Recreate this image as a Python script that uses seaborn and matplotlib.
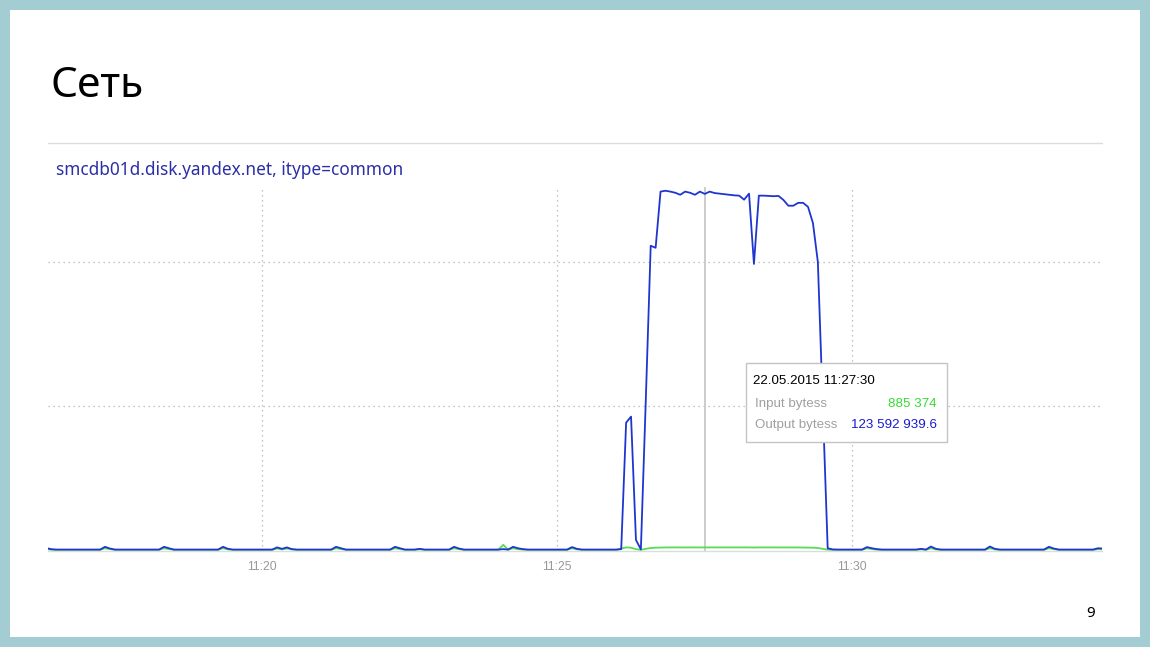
import numpy as np
import pandas as pd
import matplotlib
matplotlib.use("Agg")
import matplotlib.pyplot as plt
import matplotlib.dates as mdates
from matplotlib.patches import Rectangle
from matplotlib.lines import Line2D
import seaborn as sns

# ---------------- data ----------------
title = "Сеть"
subtitle = "smcdb01d.disk.yandex.net, itype=common"
start_time = "2015-05-22 11:16:20"
step = "5s"

# Output bytes (millions), one sample every 5 s
output_mb = [
    0.7, 0.3, 0.15, 0.15, 0.14, 0.15, 0.16, 0.15, 0.15, 0.14, 0.15, 0.15,
    1.1, 0.5, 0.15, 0.15, 0.15, 0.14, 0.15, 0.15, 0.16, 0.15, 0.15, 0.15,
    1.1, 0.6, 0.15, 0.15, 0.15, 0.15, 0.14, 0.15, 0.15, 0.15, 0.16, 0.15,
    1.1, 0.4, 0.15, 0.15, 0.15, 0.14, 0.15, 0.15, 0.15, 0.15, 0.15, 0.9,
    0.4, 0.9, 0.3, 0.15, 0.15, 0.15, 0.14, 0.15, 0.15, 0.15, 0.15, 1.1,
    0.6, 0.15, 0.15, 0.15, 0.15, 0.14, 0.15, 0.15, 0.16, 0.15, 0.15, 1.1,
    0.6, 0.15, 0.15, 0.15, 0.4, 0.15, 0.15, 0.15, 0.14, 0.15, 0.15, 1.1,
    0.5, 0.15, 0.15, 0.15, 0.14, 0.15, 0.15, 0.15, 0.15, 0.3, 0.15, 1.1,
    0.6, 0.3, 0.15, 0.15, 0.15, 0.14, 0.15, 0.15, 0.15, 0.15, 0.15, 1.0,
    0.4, 0.15, 0.15, 0.15, 0.15, 0.14, 0.15, 0.15, 0.15, 0.3, 44.2, 46.3,
    3.5, 0.2, 52.0, 105.6, 104.9, 124.4, 124.7, 124.4, 124.0, 123.3, 124.4, 124.0,
    123.3, 124.4, 123.6, 124.4, 123.9, 123.7, 123.5, 123.3, 123.1, 123.0, 121.6, 123.7,
    99.3, 123.0, 123.0, 122.9, 122.8, 122.9, 121.5, 119.5, 119.5, 120.5, 120.5, 119.1,
    113.5, 100.0, 50.0, 0.6, 0.2, 0.15, 0.15, 0.15, 0.14, 0.15, 0.15, 1.0,
    0.6, 0.3, 0.15, 0.15, 0.15, 0.14, 0.15, 0.15, 0.15, 0.15, 0.4, 0.15,
    1.2, 0.4, 0.15, 0.15, 0.15, 0.14, 0.15, 0.15, 0.15, 0.16, 0.15, 0.15,
    1.2, 0.4, 0.15, 0.15, 0.15, 0.14, 0.15, 0.15, 0.15, 0.16, 0.15, 0.15,
    1.1, 0.5, 0.15, 0.15, 0.15, 0.14, 0.15, 0.15, 0.15, 0.15, 0.6, 0.5,
]

# Input bytes (millions)
input_mb = [
    0.3, 0.1, 0.05, 0.05, 0.05, 0.05, 0.05, 0.05, 0.05, 0.05, 0.05, 0.05,
    0.6, 0.3, 0.05, 0.05, 0.05, 0.05, 0.05, 0.05, 0.05, 0.05, 0.05, 0.05,
    0.6, 0.3, 0.05, 0.05, 0.05, 0.05, 0.05, 0.05, 0.05, 0.05, 0.05, 0.05,
    0.6, 0.2, 0.05, 0.05, 0.05, 0.05, 0.05, 0.05, 0.05, 0.05, 0.05, 0.5,
    0.2, 0.5, 0.2, 0.05, 0.05, 0.05, 0.05, 0.05, 0.05, 0.05, 0.05, 0.6,
    0.3, 0.05, 0.05, 0.05, 0.05, 0.05, 0.05, 0.05, 0.05, 0.05, 0.05, 0.6,
    0.3, 0.05, 0.05, 0.05, 0.2, 0.05, 0.05, 0.05, 0.05, 0.05, 0.05, 0.6,
    0.3, 0.05, 0.05, 0.05, 0.05, 0.05, 0.05, 0.05, 0.05, 1.8, 0.1, 0.6,
    0.3, 0.1, 0.05, 0.05, 0.05, 0.05, 0.05, 0.05, 0.05, 0.05, 0.05, 0.6,
    0.2, 0.05, 0.05, 0.05, 0.05, 0.05, 0.05, 0.05, 0.05, 0.5, 0.9, 0.8,
    0.3, 0.05, 0.4, 0.7, 0.8, 0.85, 0.88, 0.9, 0.9, 0.88, 0.9, 0.9,
    0.89, 0.9, 0.885, 0.9, 0.9, 0.89, 0.9, 0.9, 0.9, 0.89, 0.88, 0.9,
    0.85, 0.9, 0.9, 0.9, 0.9, 0.9, 0.88, 0.87, 0.87, 0.88, 0.86, 0.85,
    0.8, 0.7, 0.4, 0.1, 0.05, 0.05, 0.05, 0.05, 0.05, 0.05, 0.05, 0.6,
    0.3, 0.1, 0.05, 0.05, 0.05, 0.05, 0.05, 0.05, 0.05, 0.05, 0.2, 0.05,
    0.6, 0.2, 0.05, 0.05, 0.05, 0.05, 0.05, 0.05, 0.05, 0.05, 0.05, 0.05,
    0.6, 0.2, 0.05, 0.05, 0.05, 0.05, 0.05, 0.05, 0.05, 0.05, 0.05, 0.05,
    0.6, 0.3, 0.05, 0.05, 0.05, 0.05, 0.05, 0.05, 0.05, 0.05, 0.3, 0.2,
]

tick_labels = ["11:20", "11:25", "11:30"]
cursor_time = "2015-05-22 11:27:30"
tooltip_date = "22.05.2015 11:27:30"
tooltip_rows = [("Input bytess", "885 374"), ("Output bytess", "123 592 939.6")]
page_number = "9"

# ---------------- styling ----------------
sns.set_theme(style="white")
plt.rcParams["font.family"] = ["Noto Sans", "DejaVu Sans"]

W, H = 1150, 647
fig = plt.figure(figsize=(W / 100, H / 100), dpi=100)
fig.patch.set_facecolor("#a3cdd3")


def fx(px):
    return px / W


def fy(py):
    return 1 - py / H


# white slide
fig.add_artist(Rectangle((fx(10), fy(637)), fx(1130), 627 / H, transform=fig.transFigure,
                         facecolor="white", edgecolor="none", zorder=-2))

fig.text(fx(51), fy(97), title, fontsize=30.5, color="black", va="baseline", ha="left")
fig.add_artist(Line2D([fx(48), fx(1102)], [fy(143), fy(143)], transform=fig.transFigure,
                      color="#dddddd", lw=1))
fig.text(fx(56), fy(175), subtitle, fontsize=12.4, color="#2b2ea6", va="baseline", ha="left")
fig.text(fx(1091), fy(617), page_number, fontsize=11, color="black", va="baseline", ha="center")

times = pd.date_range(start_time, periods=len(output_mb), freq=step)
df = pd.DataFrame({"time": times, "input": input_mb, "output": output_mb})

ax = fig.add_axes([fx(48), fy(551), fx(1102 - 48), (551 - 187) / H])
ax.set_facecolor("none")

ax.axvline(pd.Timestamp(cursor_time), color="#c8c8c8", lw=1.3, zorder=1)
sns.lineplot(data=df, x="time", y="input", ax=ax, color="#55dd55", linewidth=1.3, zorder=2)
sns.lineplot(data=df, x="time", y="output", ax=ax, color="#1f35d0", linewidth=1.3, zorder=3)

ax.set_xlim(pd.Timestamp("2015-05-22 11:16:22"), pd.Timestamp("2015-05-22 11:34:14"))
ax.set_ylim(-0.35, 126)
ax.set_xlabel("")
ax.set_ylabel("")
ax.set_yticks([50, 100])
ax.set_yticklabels([])
xt = [pd.Timestamp("2015-05-22 " + t) for t in tick_labels]
ax.set_xticks(xt)
ax.set_xticklabels(tick_labels)
ax.tick_params(axis="both", length=0)
ax.tick_params(axis="x", labelsize=8.8, labelcolor="#999999", pad=7)
for lab in ax.get_xticklabels():
    lab.set_family(["Liberation Sans", "DejaVu Sans"])
ax.grid(True, linestyle=(0, (1, 3)), color="#b0b0b0", linewidth=0.9)
for s in ["left", "right", "top"]:
    ax.spines[s].set_visible(False)
ax.spines["bottom"].set_color("#dcdcdc")
ax.spines["bottom"].set_linewidth(1)

# tooltip
fig.add_artist(Rectangle((fx(746), fy(442)), fx(947 - 746), (442 - 363) / H, transform=fig.transFigure,
                         facecolor="white", edgecolor="#c4c4c4", lw=1, zorder=5))
tt_font = ["Liberation Sans", "DejaVu Sans"]
fig.text(fx(753), fy(384), tooltip_date, fontsize=9.6, color="black", family=tt_font,
         va="baseline", ha="left", zorder=6)
row_y = [407, 428]
val_colors = ["#33dd33", "#1a1ad0"]
for (lab, val), yy, c in zip(tooltip_rows, row_y, val_colors):
    fig.text(fx(755), fy(yy), lab, fontsize=9.6, color="#a0a0a0", family=tt_font,
             va="baseline", ha="left", zorder=6)
    fig.text(fx(937), fy(yy), val, fontsize=9.6, color=c, family=tt_font,
             va="baseline", ha="right", zorder=6)

fig.savefig("out.png", dpi=100, facecolor=fig.get_facecolor())
